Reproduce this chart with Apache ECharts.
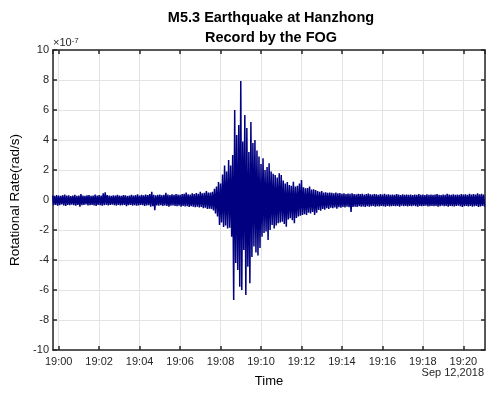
<!DOCTYPE html>
<html>
<head>
<meta charset="utf-8">
<script src="https://cdn.jsdelivr.net/npm/echarts@6/dist/echarts.min.js"></script>
<style>
  html, body { margin: 0; padding: 0; background: #fff; }
  #chart { width: 500px; height: 397px; }
</style>
</head>
<body>
<div id="chart"></div>
<script>
// time in minutes after 19:00, one envelope bin every 0.1 min (6 s)
const binStep = 0.1;

// quiet record before the quake, from 18:59:42
const preStart = -0.3;
const preHi = [
  0.30, 0.28, 0.33, 0.30, 0.27, 0.32, 0.36, 0.29, 0.31, 0.26,
  0.30, 0.34, 0.28, 0.30, 0.40, 0.29, 0.27, 0.31, 0.33, 0.28,
  0.30, 0.36, 0.29, 0.32, 0.30, 0.45, 0.52, 0.33, 0.30, 0.27,
  0.31, 0.29, 0.34, 0.30, 0.28, 0.33, 0.31, 0.27, 0.30, 0.35,
  0.29, 0.32, 0.38, 0.30, 0.34, 0.31, 0.36, 0.33, 0.40, 0.55,
  0.35, 0.31, 0.34, 0.37, 0.32, 0.35, 0.48, 0.36, 0.33, 0.38,
  0.35, 0.40, 0.36, 0.34, 0.39, 0.42, 0.50, 0.38, 0.36, 0.44,
  0.40, 0.46, 0.42, 0.55, 0.44, 0.48, 0.60, 0.50
];
const preLo = [
  -0.35, -0.32, -0.38, -0.34, -0.30, -0.36, -0.40, -0.33, -0.35, -0.31,
  -0.34, -0.38, -0.32, -0.45, -0.35, -0.33, -0.30, -0.36, -0.34, -0.32,
  -0.36, -0.40, -0.33, -0.35, -0.38, -0.34, -0.32, -0.36, -0.33, -0.31,
  -0.35, -0.37, -0.33, -0.36, -0.34, -0.32, -0.42, -0.35, -0.33, -0.37,
  -0.34, -0.38, -0.36, -0.33, -0.35, -0.39, -0.37, -0.34, -0.45, -0.42,
  -0.68, -0.36, -0.38, -0.35, -0.40, -0.37, -0.39, -0.44, -0.38, -0.36,
  -0.40, -0.42, -0.38, -0.45, -0.40, -0.43, -0.41, -0.46, -0.42, -0.44,
  -0.48, -0.45, -0.50, -0.47, -0.55, -0.52, -0.60, -0.58
];

// main shaking, 19:07:30 - 19:13:24
const quakeStart = 7.5;
const quakeHi = [
  0.50, 0.55, 0.75, 0.90, 1.20, 1.10, 1.70, 2.30, 1.90, 2.67,
  2.30, 3.00, 6.00, 4.33, 5.00, 7.93, 3.90, 5.67, 4.80, 3.20,
  5.20, 3.80, 4.00, 3.30, 2.90, 2.40, 2.78, 2.00, 2.20, 2.45,
  1.90, 1.75, 1.67, 1.50, 1.78, 1.67, 1.30, 1.10, 1.20, 1.00,
  0.95, 1.22, 0.90, 0.95, 1.10, 1.33, 0.85, 0.78, 0.80, 0.90,
  0.70, 0.72, 0.67, 0.60, 0.55, 0.60, 0.50, 0.52, 0.48, 0.50
];
const quakeLo = [
  -0.60, -0.70, -0.90, -1.10, -1.67, -1.50, -1.80, -1.70, -1.90, -1.85,
  -2.45, -6.67, -4.20, -4.67, -5.78, -6.00, -3.33, -6.33, -4.45, -5.55,
  -3.80, -3.10, -3.50, -3.70, -3.20, -2.45, -2.20, -2.10, -2.67, -2.00,
  -1.67, -1.90, -1.70, -1.55, -1.50, -1.45, -1.60, -1.78, -1.30, -1.22,
  -1.35, -1.55, -1.20, -1.10, -1.05, -1.00, -0.95, -1.00, -0.85, -0.90,
  -0.80, -1.00, -0.85, -0.67, -0.72, -0.60, -0.65, -0.55, -0.60, -0.52
];

// coda, 19:13:30 onwards
const postStart = 13.5;
const postHi = [
  0.48, 0.45, 0.50, 0.44, 0.46, 0.42, 0.45, 0.40, 0.43, 0.41,
  0.44, 0.40, 0.38, 0.42, 0.39, 0.41, 0.37, 0.40, 0.43, 0.38,
  0.36, 0.40, 0.38, 0.35, 0.39, 0.37, 0.42, 0.36, 0.38, 0.35,
  0.37, 0.34, 0.39, 0.36, 0.33, 0.38, 0.35, 0.37, 0.34, 0.36,
  0.33, 0.37, 0.35, 0.40, 0.34, 0.36, 0.33, 0.38, 0.35, 0.37,
  0.34, 0.36, 0.39, 0.35, 0.33, 0.37, 0.34, 0.41, 0.36, 0.35,
  0.38, 0.34, 0.37, 0.35, 0.40, 0.36, 0.38, 0.35, 0.42, 0.37,
  0.39, 0.36, 0.44, 0.38, 0.41, 0.37
];
const postLo = [
  -0.55, -0.50, -0.58, -0.48, -0.52, -0.46, -0.50, -0.45, -0.48, -0.80,
  -0.47, -0.44, -0.46, -0.42, -0.45, -0.43, -0.47, -0.41, -0.44, -0.42,
  -0.40, -0.44, -0.41, -0.43, -0.39, -0.42, -0.45, -0.40, -0.43, -0.41,
  -0.39, -0.42, -0.40, -0.44, -0.38, -0.41, -0.39, -0.43, -0.40, -0.42,
  -0.38, -0.41, -0.44, -0.39, -0.42, -0.40, -0.38, -0.43, -0.41, -0.39,
  -0.42, -0.40, -0.45, -0.41, -0.38, -0.42, -0.40, -0.44, -0.39, -0.41,
  -0.43, -0.40, -0.38, -0.42, -0.46, -0.41, -0.39, -0.43, -0.40, -0.44,
  -0.42, -0.39, -0.47, -0.43, -0.40, -0.45
];

const xMin = -0.28;
const xMax = 21.07;
const yMin = -10;
const yMax = 10;
const yStep = 2;

const FONT = "'Liberation Sans', Arial, sans-serif";
const AXIS_COLOR = "#262626";

// each bin gives its top then its bottom, so the line zigzags like the raw trace
const trace = [];
const addSegment = (start, hi, lo) => {
  hi.forEach((h, i) => {
    const t = start + i * binStep;
    trace.push([t, h]);
    trace.push([t + binStep / 2, lo[i]]);
  });
};
addSegment(preStart, preHi, preLo);
addSegment(quakeStart, quakeHi, quakeLo);
addSegment(postStart, postHi, postLo);

const timeLabel = (v) => {
  const r = Math.round(v);
  if (Math.abs(v - r) > 1e-6 || r % 2 !== 0) return "";
  return "19:" + String(r).padStart(2, "0");
};

const chart = echarts.init(document.getElementById("chart"));

const xBase = {
  type: "value",
  min: xMin,
  max: xMax,
  splitNumber: 10,
  axisLine: { show: true, onZero: false, lineStyle: { color: AXIS_COLOR, width: 1.5 } },
  axisTick: { show: true, inside: true, length: 4, lineStyle: { color: AXIS_COLOR, width: 1.5 } },
};
const yBase = {
  type: "value",
  min: yMin,
  max: yMax,
  interval: yStep,
  axisLine: { show: true, onZero: false, lineStyle: { color: AXIS_COLOR, width: 1.5 } },
  axisTick: { show: true, inside: true, length: 4, lineStyle: { color: AXIS_COLOR, width: 1.5 } },
};

const option = {
  animation: false,
  backgroundColor: "#fff",
  title: {
    text: "M5.3 Earthquake at Hanzhong\nRecord by the FOG",
    left: 266,
    top: 3,
    textAlign: "center",
    textStyle: {
      fontFamily: FONT,
      fontSize: 14.5,
      fontWeight: "bold",
      color: "#000",
      lineHeight: 20,
    },
  },
  grid: { left: 53, right: 15, top: 50, bottom: 47 },
  xAxis: [
    Object.assign({}, xBase, {
      position: "bottom",
      name: "Time",
      nameLocation: "middle",
      nameGap: 25,
      nameTextStyle: { fontFamily: FONT, fontSize: 13, color: "#000" },
      axisLabel: {
        margin: 6,
        fontFamily: FONT,
        fontSize: 11,
        color: AXIS_COLOR,
        showMinLabel: false,
        showMaxLabel: false,
        formatter: timeLabel,
      },
      splitLine: { show: true, lineStyle: { color: "#e3e3e3", width: 1 } },
    }),
    Object.assign({}, xBase, {
      position: "top",
      axisLabel: { show: false },
      splitLine: { show: false },
    }),
  ],
  yAxis: [
    Object.assign({}, yBase, {
      position: "left",
      name: "Rotational Rate(rad/s)",
      nameLocation: "middle",
      nameGap: 29,
      nameTextStyle: { fontFamily: FONT, fontSize: 13.5, color: "#000" },
      axisLabel: { margin: 4, fontFamily: FONT, fontSize: 11, color: AXIS_COLOR },
      splitLine: { show: true, lineStyle: { color: "#e3e3e3", width: 1 } },
    }),
    Object.assign({}, yBase, {
      position: "right",
      axisLabel: { show: false },
      splitLine: { show: false },
    }),
  ],
  graphic: [
    {
      type: "text",
      left: 53,
      top: 37,
      style: {
        text: "×10{s|-7}",
        fontFamily: FONT,
        fontSize: 11,
        fill: AXIS_COLOR,
        rich: {
          s: { fontFamily: FONT, fontSize: 8, verticalAlign: "top", fill: AXIS_COLOR },
        },
      },
    },
    {
      type: "text",
      right: 16,
      top: 367,
      style: {
        text: "Sep 12,2018",
        fontFamily: FONT,
        fontSize: 11,
        fill: AXIS_COLOR,
      },
    },
  ],
  series: [
    {
      name: "FOG",
      type: "line",
      data: trace,
      xAxisIndex: 0,
      yAxisIndex: 0,
      showSymbol: false,
      symbol: "none",
      sampling: false,
      lineStyle: { color: "#000080", width: 1.5 },
      z: 3,
    },
  ],
};

chart.setOption(option);
</script>
</body>
</html>
